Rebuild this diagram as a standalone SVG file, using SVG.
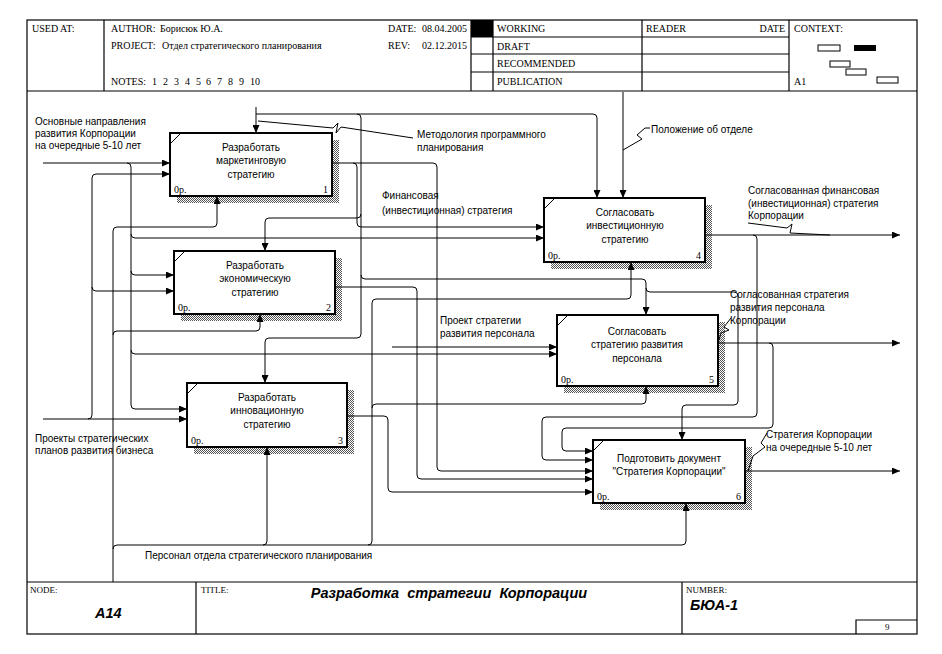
<svg xmlns="http://www.w3.org/2000/svg" width="942" height="654" viewBox="0 0 942 654">
<defs>
<pattern id="hatch" width="2" height="2" patternUnits="userSpaceOnUse">
<rect width="2" height="2" fill="#fff"/>
<rect width="1" height="1" fill="#555"/>
<rect x="1" y="1" width="1" height="1" fill="#555"/>
</pattern>
<marker id="ah" markerWidth="9" markerHeight="7" refX="8" refY="3.5" orient="auto" markerUnits="userSpaceOnUse">
<path d="M0,0 L8,3.5 L0,7 z" fill="#000"/>
</marker>
</defs>
<style>
.frame{fill:none;stroke:#000;stroke-width:1.2}
.hd{font-family:"Liberation Serif",serif;font-size:10px;fill:#000}
.ft{font-family:"Liberation Serif",serif;font-size:9px;fill:#000}
.big{font-family:"Liberation Sans",Arial,sans-serif;font-size:14.5px;font-weight:bold;font-style:italic;fill:#000}
.lbl{font-family:"Liberation Sans",Arial,sans-serif;font-size:10px;fill:#000}
.bt{font-family:"Liberation Sans",Arial,sans-serif;font-size:10px;fill:#000;text-anchor:middle}
.bn{font-family:"Liberation Serif",serif;font-size:10px;fill:#000}
.box{fill:#fff;stroke:#000;stroke-width:2}
.sh{fill:url(#hatch)}
.c{fill:none;stroke:#000;stroke-width:1}
.a{fill:none;stroke:#000;stroke-width:1;marker-end:url(#ah)}
.cb{fill:#fff;stroke:#000;stroke-width:1}
</style>
<rect width="942" height="654" fill="#fff"/>

<g id="header">
<rect class="frame" x="27" y="20" width="890" height="614"/>
<line class="frame" x1="27" y1="91" x2="917" y2="91"/>
<line class="frame" x1="104" y1="20" x2="104" y2="91"/>
<line class="frame" x1="471" y1="20" x2="471" y2="91"/>
<line class="frame" x1="493" y1="20" x2="493" y2="91"/>
<line class="frame" x1="642" y1="20" x2="642" y2="91"/>
<line class="frame" x1="789" y1="20" x2="789" y2="91"/>
<line class="frame" x1="471" y1="37" x2="789" y2="37"/>
<line class="frame" x1="471" y1="54" x2="789" y2="54"/>
<line class="frame" x1="471" y1="72" x2="789" y2="72"/>
<rect x="471" y="20" width="22" height="17" fill="#000"/>
<text class="hd" x="32" y="32">USED AT:</text>
<text class="hd" x="111" y="32">AUTHOR:</text>
<text class="hd" x="160" y="32">Борисюк Ю.А.</text>
<text class="hd" x="111" y="49">PROJECT:</text>
<text class="hd" x="162" y="49" font-size="9.5">Отдел стратегического планирования</text>
<text class="hd" x="111" y="85">NOTES:</text>
<text class="hd" x="152" y="85">1</text><text class="hd" x="163" y="85">2</text><text class="hd" x="174" y="85">3</text><text class="hd" x="185" y="85">4</text><text class="hd" x="196" y="85">5</text><text class="hd" x="206" y="85">6</text><text class="hd" x="217" y="85">7</text><text class="hd" x="228" y="85">8</text><text class="hd" x="239" y="85">9</text><text class="hd" x="250" y="85">10</text>
<text class="hd" x="388" y="32">DATE:</text>
<text class="hd" x="422" y="32">08.04.2005</text>
<text class="hd" x="388" y="49">REV:</text>
<text class="hd" x="422" y="49">02.12.2015</text>
<text class="hd" x="497" y="32">WORKING</text>
<text class="hd" x="497" y="50">DRAFT</text>
<text class="hd" x="497" y="67">RECOMMENDED</text>
<text class="hd" x="497" y="85">PUBLICATION</text>
<text class="hd" x="646" y="32">READER</text>
<text class="hd" x="785" y="32" text-anchor="end">DATE</text>
<text class="hd" x="794" y="32">CONTEXT:</text>
<text class="hd" x="794" y="85">A1</text>
<rect class="cb" x="818" y="45" width="22" height="6"/>
<rect x="854" y="45" width="22" height="6" fill="#000"/>
<rect class="cb" x="830" y="61" width="20" height="6"/>
<rect class="cb" x="846" y="69" width="20" height="6"/>
<rect class="cb" x="877" y="77" width="21" height="6"/>
</g>

<g id="footer">
<line class="frame" x1="27" y1="582" x2="917" y2="582"/>
<line class="frame" x1="196" y1="582" x2="196" y2="634"/>
<line class="frame" x1="682" y1="582" x2="682" y2="634"/>
<polyline class="frame" points="856,634 856,620 917,620"/>
<text class="ft" x="30" y="593">NODE:</text>
<text class="ft" x="201" y="593">TITLE:</text>
<text class="ft" x="686" y="593">NUMBER:</text>
<text class="big" x="95" y="618">A14</text>
<text class="big" x="449" y="598" text-anchor="middle" xml:space="preserve">Разработка  стратегии  Корпорации</text>
<text class="big" x="690" y="610">БЮА-1</text>
<text class="ft" x="885" y="630">9</text>
</g>

<g id="box1">
<rect class="sh" x="177" y="140" width="162" height="63"/>
<rect class="box" x="170" y="133" width="162" height="63"/>
<line class="c" x1="171" y1="143" x2="180" y2="134"/>
<text class="bt" x="251" y="151">Разработать</text>
<text class="bt" x="251" y="164">маркетинговую</text>
<text class="bt" x="251" y="178">стратегию</text>
<text class="bn" x="174" y="193">0р.</text>
<text class="bn" x="328" y="193" text-anchor="end">1</text>
</g>
<g id="box2">
<rect class="sh" x="181" y="258" width="161" height="63"/>
<rect class="box" x="174" y="251" width="161" height="63"/>
<line class="c" x1="175" y1="261" x2="184" y2="252"/>
<text class="bt" x="255" y="269">Разработать</text>
<text class="bt" x="255" y="282">экономическую</text>
<text class="bt" x="255" y="296">стратегию</text>
<text class="bn" x="178" y="311">0р.</text>
<text class="bn" x="331" y="311" text-anchor="end">2</text>
</g>
<g id="box3">
<rect class="sh" x="194" y="390" width="160" height="64"/>
<rect class="box" x="187" y="383" width="160" height="64"/>
<line class="c" x1="188" y1="393" x2="197" y2="384"/>
<text class="bt" x="267" y="401">Разработать</text>
<text class="bt" x="267" y="414">инновационную</text>
<text class="bt" x="267" y="428">стратегию</text>
<text class="bn" x="191" y="444">0р.</text>
<text class="bn" x="343" y="444" text-anchor="end">3</text>
</g>
<g id="box4">
<rect class="sh" x="551" y="205" width="161" height="64"/>
<rect class="box" x="544" y="198" width="161" height="64"/>
<line class="c" x1="545" y1="208" x2="554" y2="199"/>
<text class="bt" x="625" y="216">Согласовать</text>
<text class="bt" x="625" y="229">инвестиционную</text>
<text class="bt" x="625" y="243">стратегию</text>
<text class="bn" x="548" y="259">0р.</text>
<text class="bn" x="701" y="259" text-anchor="end">4</text>
</g>
<g id="box5">
<rect class="sh" x="564" y="322" width="161" height="71"/>
<rect class="box" x="557" y="315" width="161" height="71"/>
<line class="c" x1="558" y1="325" x2="567" y2="316"/>
<text class="bt" x="637" y="335">Согласовать</text>
<text class="bt" x="637" y="348">стратегию развития</text>
<text class="bt" x="637" y="362">персонала</text>
<text class="bn" x="561" y="383">0р.</text>
<text class="bn" x="714" y="383" text-anchor="end">5</text>
</g>
<g id="box6">
<rect class="sh" x="600" y="447" width="152" height="63"/>
<rect class="box" x="593" y="440" width="152" height="63"/>
<line class="c" x1="594" y1="450" x2="603" y2="441"/>
<text class="bt" x="669" y="462">Подготовить документ</text>
<text class="bt" x="669" y="475">"Стратегия Корпорации"</text>
<text class="bn" x="597" y="500">0р.</text>
<text class="bn" x="741" y="500" text-anchor="end">6</text>
</g>

<g id="connectors">
<path class="a" d="M43,163 H170"/>
<path class="a" d="M127,163 Q131,163 131,167 V405 Q131,409 135,409 H187"/>
<path class="a" d="M131,234 Q131,238 135,238 H544"/>
<path class="a" d="M131,271 Q131,275 135,275 H174"/>
<path class="a" d="M131,350 Q131,354 135,354 H557"/>
<path class="a" d="M43,419 H187"/>
<path class="a" d="M88,419 Q92,419 92,415 V178 Q92,174 96,174 H170"/>
<path class="a" d="M92,287 Q92,291 96,291 H174"/>
<path class="a" d="M392,347 H557"/>
<path class="a" d="M256,107 V133"/>
<path class="a" d="M256,114 H593 Q597,114 597,118 V198"/>
<path class="a" d="M357,114 Q361,114 361,118 V334 Q361,338 357,338 H269 Q265,338 265,342 V383"/>
<path class="a" d="M361,214 Q361,218 357,218 H269 Q265,218 265,222 V251"/>
<path class="a" d="M361,275 Q361,279 365,279 H642 Q646,279 646,283 V315"/>
<path class="a" d="M646,288 Q646,292 650,292 H734 Q738,292 738,296 V401 Q738,405 734,405 H686 Q682,405 682,409 V440"/>
<path class="a" d="M623,92 V198"/>
<path class="a" d="M113,582 V231 Q113,227 117,227 H213 Q217,227 217,223 V196"/>
<path class="a" d="M113,335 Q113,331 117,331 H256 Q260,331 260,327 V314"/>
<path class="a" d="M113,549 Q113,545 117,545 H682 Q686,545 686,541 V503"/>
<path class="a" d="M263,545 Q267,545 267,541 V447"/>
<path class="a" d="M368,545 Q372,545 372,541 V303 Q372,299 376,299 H627 Q631,299 631,295 V262"/>
<path class="a" d="M372,408 Q372,404 376,404 H642 Q646,404 646,400 V386"/>
<path class="a" d="M332,163 H433 Q437,163 437,167 V467 Q437,471 441,471 H593"/>
<path class="a" d="M353,163 Q357,163 357,167 V223 Q357,227 361,227 H544"/>
<path class="a" d="M335,287 H413 Q417,287 417,291 V475 Q417,479 421,479 H593"/>
<path class="a" d="M347,416 H384 Q388,416 388,420 V488 Q388,492 392,492 H593"/>
<path class="a" d="M705,235 H900"/>
<path class="a" d="M753,235 Q757,235 757,239 V413 Q757,417 753,417 H546 Q542,417 542,421 V456 Q542,460 546,460 H593"/>
<path class="a" d="M718,343 H900"/>
<path class="a" d="M769,343 Q773,343 773,347 V424 Q773,428 769,428 H566 Q562,428 562,432 V447 Q562,451 566,451 H593"/>
<path class="a" d="M745,471 H900"/>
<polyline class="c" points="413,138 341,127 336,133 338,123 333,128 258,121"/>
<polyline class="c" points="650,128 645,128 637,135 642,139 623,150"/>
<polyline class="c" points="748,223 787,228 792,224 790,233 830,235"/>
<polyline class="c" points="731,318 724,327 729,330 721,333 718,343"/>
<polyline class="c" points="767,433 761,443 765,447 753,456 748,471"/>
</g>

<g id="labels">
<text class="lbl" x="35" y="125">Основные направления</text>
<text class="lbl" x="35" y="137">развития Корпорации</text>
<text class="lbl" x="35" y="149">на очередные 5-10 лет</text>
<text class="lbl" x="35" y="442">Проекты стратегических</text>
<text class="lbl" x="35" y="454">планов развития бизнеса</text>
<text class="lbl" x="417" y="138">Методология программного</text>
<text class="lbl" x="417" y="151">планирования</text>
<text class="lbl" x="651" y="133">Положение об отделе</text>
<text class="lbl" x="382" y="199">Финансовая</text>
<text class="lbl" x="382" y="214">(инвестиционная) стратегия</text>
<text class="lbl" x="748" y="194">Согласованная финансовая</text>
<text class="lbl" x="748" y="207">(инвестиционная) стратегия</text>
<text class="lbl" x="748" y="219">Корпорации</text>
<text class="lbl" x="440" y="324">Проект стратегии</text>
<text class="lbl" x="440" y="337">развития персонала</text>
<text class="lbl" x="730" y="298">Согласованная стратегия</text>
<text class="lbl" x="730" y="311">развития персонала</text>
<text class="lbl" x="730" y="324">Корпорации</text>
<text class="lbl" x="766" y="438">Стратегия Корпорации</text>
<text class="lbl" x="766" y="451">на очередные 5-10 лет</text>
<text class="lbl" x="145" y="559">Персонал отдела стратегического планирования</text>
</g>
</svg>
